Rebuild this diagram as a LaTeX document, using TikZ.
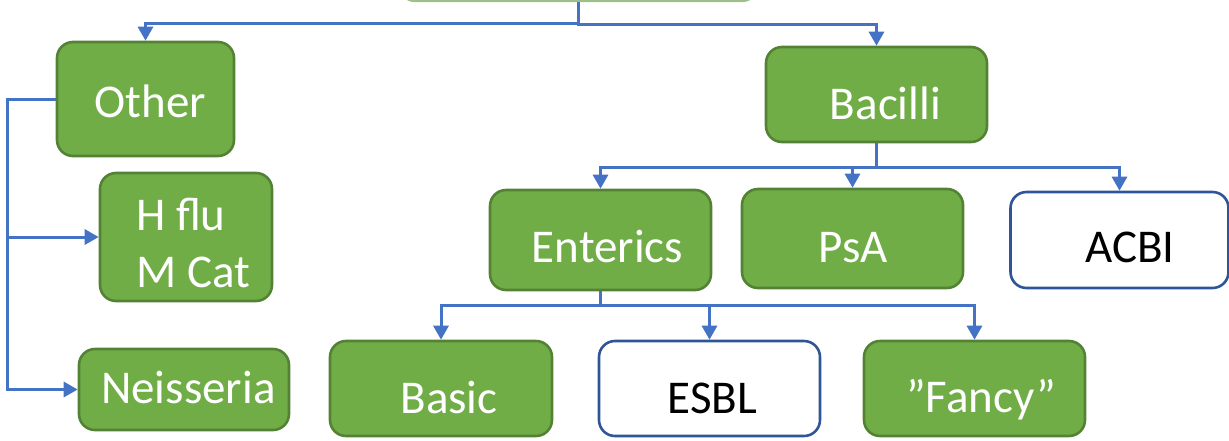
\documentclass[tikz,border=0pt]{standalone}
\usepackage{fontspec}
\setmainfont{Carlito}
\usetikzlibrary{arrows.meta}

\definecolor{leafgreen}{HTML}{70AD47}
\definecolor{leafedge}{HTML}{548235}
\definecolor{rootedge}{HTML}{9DC08B}
\definecolor{wireblue}{HTML}{4472C4}
\definecolor{boxblue}{HTML}{2F5597}

\tikzset{
  gbox/.style={rectangle, rounded corners=16pt, fill=leafgreen, draw=leafedge,
               line width=2.6pt, inner sep=0pt},
  wbox/.style={rectangle, rounded corners=16pt, fill=white, draw=boxblue,
               line width=2.6pt, inner sep=0pt},
  lbl/.style={font=\fontsize{47}{57}\selectfont, anchor=base, inner sep=0pt},
  wlbl/.style={lbl, text=white},
  blbl/.style={lbl, text=black},
  link/.style={draw=wireblue, line width=3pt,
               -{Triangle[length=14pt,width=15pt]}},
}

\begin{document}
\begin{tikzpicture}[x=1pt,y=-1pt]
\useasboundingbox (0,0) rectangle (1229,440);

% top-level box, mostly above the page
\node[gbox, draw=rootedge, minimum width=359pt, minimum height=80pt] (root) at (578.5,-39.2) {};

% boxes
\node[gbox, minimum width=177pt, minimum height=114pt] (other)    at (145.5,99) {};
\node[gbox, minimum width=221pt, minimum height=95pt]  (bacilli)  at (876.5,94.5) {};
\node[gbox, minimum width=172pt, minimum height=128pt] (hflu)     at (186,237) {};
\node[gbox, minimum width=210pt, minimum height=81pt]  (neis)     at (184,389.5) {};
\node[gbox, minimum width=221pt, minimum height=100pt] (enterics) at (600.5,240) {};
\node[gbox, minimum width=221pt, minimum height=99pt]  (psa)      at (852.5,238.5) {};
\node[wbox, minimum width=218pt, minimum height=96pt]  (acbi)     at (1119.5,240) {};
\node[gbox, minimum width=222pt, minimum height=95pt]  (basic)    at (441,388.5) {};
\node[wbox, minimum width=221pt, minimum height=95pt]  (esbl)     at (709.5,388.5) {};
\node[gbox, minimum width=221pt, minimum height=95pt]  (fancy)    at (974.5,388.5) {};

% labels
\node[wlbl] (other-t)    at (150.5,117) {Other};
\node[wlbl] (bacilli-t)  at (885.5,119) {Bacilli};
\node[wlbl, anchor=base west] (hflu-t1) at (136,230) {H flu};
\node[wlbl, anchor=base west] (hflu-t2) at (136,287) {M Cat};
\node[wlbl, anchor=base west] (neis-t)  at (101,403) {Neisseria};
\node[wlbl] (enterics-t) at (607.5,262) {Enterics};
\node[wlbl] (psa-t)      at (853,262) {PsA};
\node[blbl] (acbi-t)     at (1130,262) {ACBI};
\node[wlbl] (basic-t)    at (449,413) {Basic};
\node[blbl] (esbl-t)     at (712.5,413) {ESBL};
\node[wlbl] (fancy-t)    at (981,412) {”Fancy”};

% connectors
\draw[link] (root.south) -- ++(0,21) -| (other.north);
\draw[link] (root.south) -- ++(0,22) -| (bacilli.north);

\draw[link] (other.west) -- ++(-48,0) |- (hflu.west);
\draw[link] (other.west) -- ++(-48,0) |- (neis.west);

\draw[link] (bacilli.south) -- ++(0,24) -| (enterics.north);
\draw[link] (bacilli.south) -- ++(0,24) -| (psa.north);
\draw[link] (bacilli.south) -- ++(0,24) -| (acbi.north);

\draw[link] (enterics.south) -- ++(0,14) -| (basic.north);
\draw[link] (enterics.south) -- ++(0,14) -| (esbl.north);
\draw[link] (enterics.south) -- ++(0,14) -| (fancy.north);
\end{tikzpicture}
\end{document}
